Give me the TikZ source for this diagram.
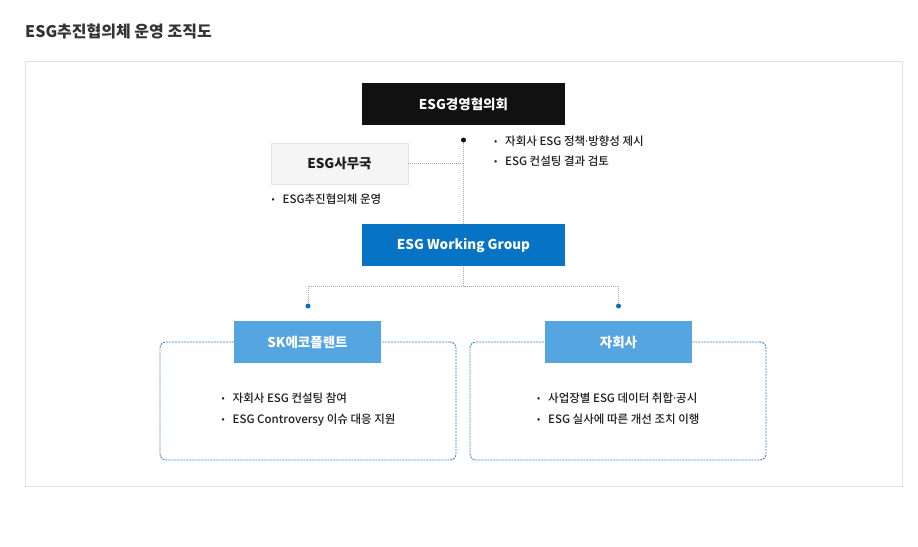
\documentclass[tikz,border=0pt]{standalone}
\usepackage{fontspec}
\setmainfont{Noto Sans CJK KR}
\newfontfamily\medfont{Noto Sans CJK KR Medium}
\newfontfamily\dotfont{Noto Sans}
\usetikzlibrary{positioning}
\definecolor{inkdark}{HTML}{111111}
\definecolor{textdark}{HTML}{1E1E1E}
\definecolor{titlegrey}{HTML}{333333}
\definecolor{wgblue}{HTML}{0773C4}
\definecolor{subblue}{HTML}{55A5E0}
\definecolor{dashblue}{HTML}{3A88D0}
\definecolor{dotblue}{HTML}{0A6FC2}
\definecolor{officegrey}{HTML}{F5F5F5}
\definecolor{panelgrey}{HTML}{E2E2E2}
\definecolor{linegrey}{HTML}{AAAAAA}
\newcommand{\bul}{\makebox[11pt][l]{\raisebox{0.4pt}{\fontsize{9}{9}\selectfont•}}}
\newcommand{\mdot}{{\dotfont ·}}

\begin{document}
\begin{tikzpicture}[x=1pt, y=1pt,
box/.style={inner sep=0pt, minimum width=203pt, minimum height=42pt, text=white, font=\fontsize{13.5}{16}\selectfont\bfseries},
darkbox/.style={box, fill=inkdark},
wgbox/.style={box, fill=wgblue},
officebox/.style={box, fill=officegrey, draw=panelgrey, thick, text=textdark, minimum width=137pt, minimum height=41pt},
subbox/.style={box, fill=subblue, minimum width=147pt},
groupbox/.style={draw=dashblue, line width=0.9pt, dash pattern=on 2pt off 1pt, rounded corners=6pt, minimum width=296pt, minimum height=118pt},
dot/.style={circle, inner sep=0pt, minimum size=5pt},
note/.style={anchor=base west, inner sep=0pt, text=textdark, font=\fontsize{11.5}{14}\medfont},
link/.style={draw=linegrey, dash pattern=on 1pt off 1pt}
]
\useasboundingbox (0,0) rectangle (918,-546);
%Title and panel
\node[anchor=base west, inner sep=0pt, text=titlegrey, font=\fontsize{16}{18}\selectfont\bfseries] (title) at (25,-37.5) {ESG추진협의체 운영 조직도};
\draw[panelgrey, line width=1pt] (25,-61) rectangle (902,-486);
%Nodes
\node[darkbox]   (council)  at (463.5,-104)               {ESG경영협의회};
\node[wgbox]     (wg)       [below=99pt of council]       {ESG Working Group};
\node[officebox] (office)   at (339.5,-163.5)             {ESG사무국};
\node[dot, fill=inkdark]  (hub)  at (463.5,-140) {};
\coordinate (bus) at (463.5,-286);
\node[dot, fill=dotblue]  (dotL) at (308,-306) {};
\node[dot, fill=dotblue]  (dotR) at (618.5,-306) {};
\node[groupbox]  (groupL)   at (308,-401)                 {};
\node[groupbox]  (groupR)   at (618,-401)                 {};
\node[subbox]    (skec)     at (307.5,-342)               {SK에코플랜트};
\node[subbox]    (subs)     at (618.5,-342)               {자회사};
%Notes
\node[note] (c1) at (494,-145)   {\bul 자회사 ESG 정책\mdot 방향성 제시};
\node[note] (c2) at (494,-165)   {\bul ESG 컨설팅 결과 검토};
\node[note] (o1) at (271.5,-203) {\bul ESG추진협의체 운영};
\node[note] (s1) at (221.5,-402) {\bul 자회사 ESG 컨설팅 참여};
\node[note] (s2) at (221.5,-423) {\bul ESG Controversy 이슈 대응 지원};
\node[note] (t1) at (537,-402)   {\bul 사업장별 ESG 데이터 취합\mdot 공시};
\node[note] (t2) at (537,-423)   {\bul ESG 실사에 따른 개선 조치 이행};
%Lines
\draw[link] (hub) -- (wg);
\draw[link] (office) -- (office -| hub);
\draw[link] (wg) -- (bus);
\draw[link] (dotL) |- (bus) -| (dotR);
\end{tikzpicture}
\end{document}
